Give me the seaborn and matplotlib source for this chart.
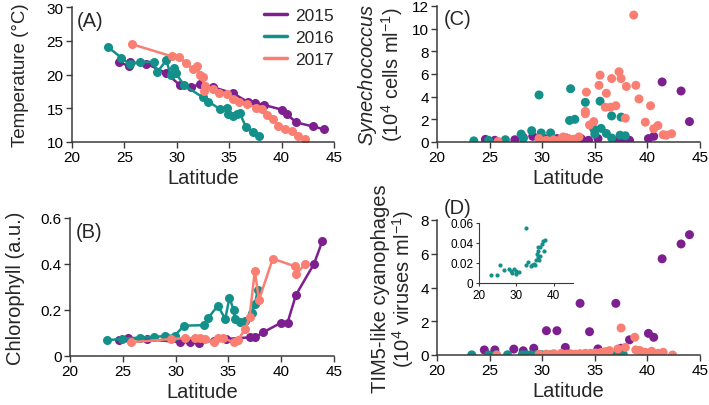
import numpy as np
import pandas as pd
import matplotlib
matplotlib.use("Agg")
import matplotlib.pyplot as plt
from matplotlib.lines import Line2D
import seaborn as sns

# ---------------- data ----------------
years = ["2015", "2016", "2017"]
colors = ["#7d1f8f", "#13908a", "#fa7f72"]

# (A) temperature
lat_t15 = [24.5, 25.4, 25.5, 27.1, 29.0, 30.3, 31.4, 32.2, 33.5, 35.4, 36.8, 37.5, 38.3, 40.0, 40.5, 41.4, 43.0, 44.0]
temp_15 = [21.8, 21.3, 21.8, 21.6, 20.2, 18.4, 18.1, 18.6, 18.1, 17.2, 15.9, 15.8, 15.5, 14.8, 14.1, 12.9, 12.3, 11.9]
lat_t16 = [23.4, 24.7, 25.5, 26.5, 27.8, 28.1, 29.0, 29.4, 29.7, 29.9, 30.7, 32.5, 33.0, 34.1, 34.8, 34.9, 35.4, 35.7, 36.0, 36.6, 37.3, 37.8]
temp_16 = [24.1, 22.5, 21.5, 21.8, 21.9, 20.3, 22.1, 20.0, 21.0, 20.2, 18.4, 16.6, 16.0, 14.9, 15.1, 14.1, 13.8, 14.1, 14.3, 12.2, 11.5, 10.9]
lat_t17 = [25.7, 29.5, 30.2, 30.9, 31.5, 31.9, 32.2, 32.5, 32.7, 32.6, 33.5, 34.0, 34.8, 35.4, 35.9, 36.7, 37.6, 38.1, 38.6, 39.2, 39.7, 40.3, 41.0, 41.6, 42.2]
temp_17 = [24.5, 22.7, 22.6, 21.7, 20.8, 21.3, 19.9, 19.6, 18.3, 17.6, 17.8, 17.3, 17.1, 16.4, 15.9, 15.6, 15.1, 14.9, 14.0, 13.4, 12.4, 11.9, 11.7, 10.9, 10.4]

# (B) chlorophyll
lat_c15 = [24.6, 25.5, 27.3, 30.4, 31.4, 32.2, 33.6, 34.8, 37.0, 37.5, 38.3, 40.0, 40.6, 41.4, 43.1, 43.9]
chl_15 = [0.070, 0.077, 0.073, 0.060, 0.060, 0.058, 0.067, 0.074, 0.081, 0.081, 0.103, 0.145, 0.145, 0.266, 0.40, 0.50]
lat_c16 = [23.5, 24.9, 26.6, 28.0, 29.0, 29.9, 30.8, 32.7, 33.1, 34.0, 34.7, 35.1, 35.5, 35.6, 36.1, 36.6, 37.2, 37.5, 37.8]
chl_16 = [0.068, 0.075, 0.080, 0.082, 0.088, 0.088, 0.132, 0.134, 0.166, 0.219, 0.161, 0.253, 0.200, 0.161, 0.147, 0.154, 0.186, 0.227, 0.288]
lat_c17 = [25.8, 29.6, 30.9, 31.8, 32.3, 32.8, 33.6, 34.0, 34.5, 35.5, 35.9, 36.6, 37.0, 37.5, 37.9, 39.2, 41.3, 41.4, 42.3]
chl_17 = [0.060, 0.074, 0.078, 0.078, 0.077, 0.073, 0.060, 0.078, 0.077, 0.060, 0.070, 0.118, 0.169, 0.369, 0.244, 0.423, 0.390, 0.358, 0.400]

# (C) Synechococcus (10^4 cells/ml)
lat_s15 = [24.6, 25.5, 27.4, 28.2, 29.1, 30.2, 31.4, 32.3, 33.7, 34.4, 35.3, 37.2, 37.5, 38.3, 40.1, 40.6, 41.4, 43.2, 44.0]
syn_15 = [0.23, 0.15, 0.2, 0.4, 0.5, 0.3, 0.3, 0.35, 0.3, 0.15, 0.3, 0.15, 0.15, 0.15, 0.3, 0.5, 5.3, 4.5, 1.8]
lat_s16 = [23.5, 24.9, 26.5, 28.0, 28.2, 29.0, 29.7, 29.9, 30.8, 32.6, 32.7, 33.1, 34.1, 34.9, 35.0, 35.5, 35.6, 36.1, 36.6, 36.6, 37.4, 37.5, 37.9]
syn_16 = [0.1, 0.15, 0.2, 0.7, 0.3, 1.0, 4.15, 0.8, 0.8, 1.9, 4.7, 2.0, 3.5, 1.15, 0.7, 3.6, 1.2, 0.75, 2.3, 0.35, 0.6, 2.2, 0.55]
lat_s17 = [25.8, 29.7, 30.4, 31.1, 31.8, 32.0, 32.5, 33.0, 33.5, 34.1, 34.1, 34.2, 34.5, 34.9, 35.4, 35.5, 36.0, 36.1, 36.5, 36.6, 37.0, 37.3, 37.5, 37.9, 38.0, 38.7, 38.9, 39.2, 39.8, 40.3, 40.6, 41.0, 41.5, 41.8, 42.3]
syn_17 = [0.05, 0.3, 0.15, 0.2, 0.3, 0.45, 0.3, 0.25, 0.45, 2.7, 2.5, 4.4, 1.5, 1.8, 5.0, 5.9, 3.07, 4.3, 3.07, 5.6, 3.2, 6.2, 5.6, 2.1, 4.9, 11.2, 5.0, 3.8, 1.75, 3.2, 1.17, 1.45, 0.64, 0.6, 0.73]

# (D) TIM5-like cyanophages (10^4 viruses/ml)
lat_p15 = [24.5, 25.5, 27.3, 28.2, 29.2, 30.4, 31.4, 32.2, 33.6, 34.5, 35.3, 37.0, 37.5, 38.3, 40.1, 40.6, 41.4, 43.2, 44.0]
tim_15 = [0.3, 0.3, 0.35, 0.25, 0.4, 1.44, 1.44, 0.45, 3.06, 1.38, 0.36, 3.06, 0.4, 0.9, 1.28, 1.05, 5.7, 6.58, 7.13]
lat_p16 = [23.3, 24.9, 25.6, 26.7, 28.1, 28.5, 28.9, 29.4, 29.8, 30.0, 30.8, 32.5, 32.7, 33.0, 33.9, 34.3, 34.7, 35.0, 35.2, 35.4, 35.7, 35.9, 36.3, 35.7, 36.0, 36.4, 36.8, 37.2, 37.7, 37.4]
tim_16 = [0.0078, 0.0078, 0.018, 0.0128, 0.0145, 0.012, 0.0104, 0.0138, 0.0094, 0.012, 0.011, 0.0553, 0.0179, 0.0206, 0.0172, 0.018, 0.019, 0.018, 0.023, 0.029, 0.032, 0.036, 0.036, 0.026, 0.023, 0.027, 0.039, 0.042, 0.0435, 0.032]
lat_p17 = [25.7, 29.7, 30.4, 31.1, 31.8, 32.3, 32.7, 33.2, 33.6, 34.1, 34.6, 35.1, 35.6, 36.0, 36.4, 37.2, 37.5, 37.9, 38.8, 38.9, 39.3, 39.8, 40.4, 41.0, 41.5, 42.4]
tim_17 = [0.0, 0.04, 0.05, 0.08, 0.1, 0.05, 0.07, 0.05, 0.08, 0.1, 0.1, 0.12, 0.15, 0.2, 0.26, 0.36, 1.6, 0.45, 1.05, 0.3, 0.26, 0.16, 0.22, 0.1, 0.16, 0.0]


def frame(lats, vals):
    parts = []
    for yr, la, va in zip(years, lats, vals):
        parts.append(pd.DataFrame({"lat": la, "val": va, "year": yr}))
    return pd.concat(parts, ignore_index=True)


df_t = frame([lat_t15, lat_t16, lat_t17], [temp_15, temp_16, temp_17])
df_c = frame([lat_c15, lat_c16, lat_c17], [chl_15, chl_16, chl_17])
df_s = frame([lat_s15, lat_s16, lat_s17], [syn_15, syn_16, syn_17])
df_p = frame([lat_p15, lat_p16, lat_p17], [tim_15, tim_16, tim_17])
df_in = pd.DataFrame({"lat": lat_p16, "val": tim_16})

palette = dict(zip(years, colors))

# ---------------- style ----------------
sns.set_theme(style="ticks")
plt.rcParams["font.family"] = ["Liberation Sans", "DejaVu Sans"]
plt.rcParams["mathtext.fontset"] = "custom"
plt.rcParams["mathtext.rm"] = "Liberation Sans"
plt.rcParams["mathtext.it"] = "Liberation Sans:italic"
plt.rcParams["axes.edgecolor"] = "#3a3a3a"
plt.rcParams["axes.linewidth"] = 1.1
plt.rcParams["xtick.color"] = "#3a3a3a"
plt.rcParams["ytick.color"] = "#3a3a3a"
plt.rcParams["xtick.labelcolor"] = "black"
plt.rcParams["ytick.labelcolor"] = "black"

fig = plt.figure(figsize=(7.09, 4.06), dpi=100)
W, H = 709, 406


def add_ax(l, r, t, b):
    return fig.add_axes([l / W, 1 - b / H, (r - l) / W, (b - t) / H])


axA = add_ax(72, 334, 8, 143)
axB = add_ax(70, 334, 219, 357)
axC = add_ax(437, 700, 7, 143)
axD = add_ax(437, 700, 221, 356)
axI = add_ax(479, 572.5, 224, 284)

line_kw = dict(marker="o", markersize=6.5, linewidth=1.8, markeredgewidth=0,
               estimator=None, sort=True, legend=False)
sns.lineplot(data=df_t, x="lat", y="val", hue="year", palette=palette, ax=axA, **line_kw)
sns.lineplot(data=df_c, x="lat", y="val", hue="year", palette=palette, ax=axB, **line_kw)

sc_kw = dict(s=42, linewidth=0, legend=False)
sns.scatterplot(data=df_s, x="lat", y="val", hue="year", palette=palette, ax=axC, **sc_kw)
sns.scatterplot(data=df_p, x="lat", y="val", hue="year", palette=palette, ax=axD, **sc_kw)
sns.scatterplot(data=df_in, x="lat", y="val", color=colors[1], s=9, linewidth=0, ax=axI, legend=False)

tick_fs = 11
lab_fs = 14.5

for ax in (axA, axB, axC, axD):
    sns.despine(ax=ax)
    ax.set_xlim(20, 45)
    ax.set_xticks([20, 25, 30, 35, 40, 45])
    ax.tick_params(axis="both", labelsize=tick_fs, length=4, width=1.0, pad=2)
    ax.set_xlabel("Latitude", fontsize=lab_fs, labelpad=3)

axA.set_ylim(10, 30)
axA.set_yticks([10, 15, 20, 25, 30])
axA.set_ylabel("Temperature (°C)", fontsize=13.5, labelpad=13)

axB.set_ylim(0, 0.6)
axB.set_yticks([0, 0.2, 0.4, 0.6])
axB.set_yticklabels(["0", "0.2", "0.4", "0.6"])
axB.set_ylabel("Chlorophyll (a.u.)", fontsize=lab_fs, labelpad=11)

axC.set_ylim(0, 12)
axC.set_yticks([0, 2, 4, 6, 8, 10, 12])
axC.set_ylabel("$\\mathit{Synechococcus}$\n(10$^{4}$ cells ml$^{-1}$)", fontsize=lab_fs,
               labelpad=5, linespacing=1.0)

axD.set_ylim(0, 8)
axD.set_yticks([0, 2, 4, 6, 8])
axD.set_ylabel("TIM5-like cyanophages\n(10$^{4}$ viruses ml$^{-1}$)", fontsize=lab_fs,
               labelpad=3, linespacing=1.0)

# inset
sns.despine(ax=axI)
axI.set_xlim(20, 45)
axI.set_xticks([20, 30, 40])
axI.set_ylim(0, 0.06)
axI.set_yticks([0, 0.02, 0.04, 0.06])
axI.set_yticklabels(["0", "0.02", "0.04", "0.06"])
axI.set_xlabel("")
axI.set_ylabel("")
axI.tick_params(axis="both", labelsize=8.5, length=2.5, width=0.8, pad=1.5)
for sp in axI.spines.values():
    sp.set_linewidth(0.8)

# panel letters
axA.text(0.02, 0.97, "(A)", transform=axA.transAxes, fontsize=lab_fs, va="top", ha="left")
axB.text(0.02, 0.97, "(B)", transform=axB.transAxes, fontsize=lab_fs, va="top", ha="left")
axC.text(0.025, 0.98, "(C)", transform=axC.transAxes, fontsize=lab_fs, va="top", ha="left")
axD.text(0.025, 1.02, "(D)", transform=axD.transAxes, fontsize=lab_fs, va="bottom", ha="left")

handles = [Line2D([], [], color=c, lw=2.5) for c in colors]
axA.legend(handles, years, loc="upper right", bbox_to_anchor=(1.04, 1.07), frameon=False,
           fontsize=12.5, handlelength=1.3, handletextpad=0.5, labelspacing=0.4,
           borderaxespad=0.2)

fig.savefig("out.png", dpi=100)
